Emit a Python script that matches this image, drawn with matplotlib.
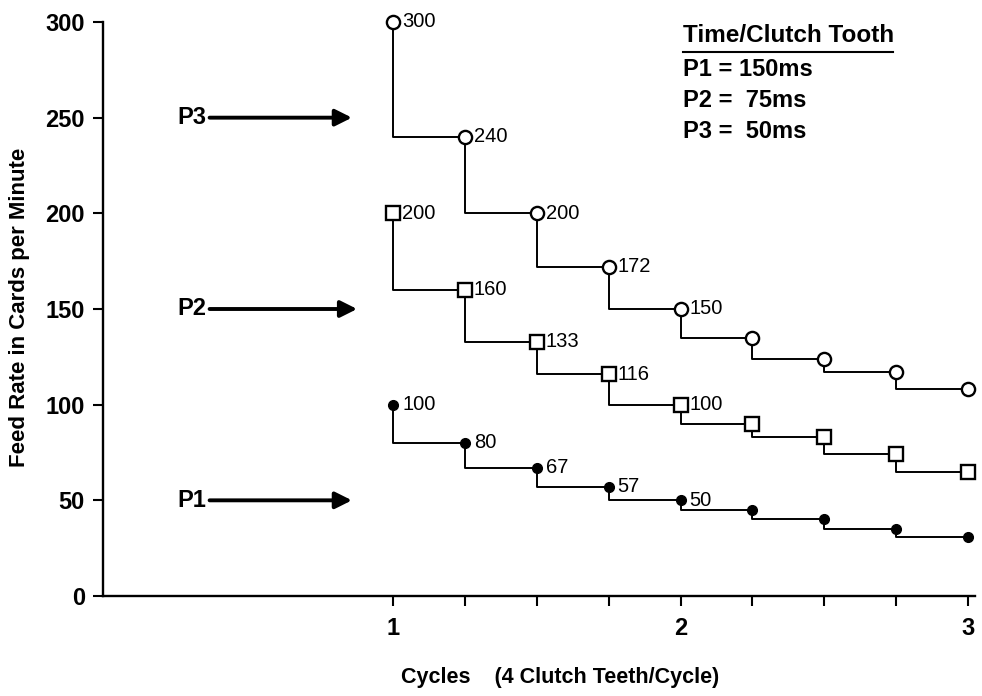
import matplotlib
matplotlib.use("Agg")
import matplotlib.pyplot as plt

plt.rcParams['font.family'] = ['Liberation Sans', 'DejaVu Sans']

# Cycle positions (one step per clutch tooth, 4 teeth per cycle)
cycles = [1.0, 1.25, 1.5, 1.75, 2.0, 2.25, 2.5, 2.75, 3.0]

# Feed rate (cards per minute) for each clutch setting
p1_rate = [100, 80, 67, 57, 50, 45, 40, 35, 31]
p2_rate = [200, 160, 133, 116, 100, 90, 83, 74, 65]
p3_rate = [300, 240, 200, 172, 150, 135, 124, 117, 108]

# Number of leading points that carry a value label
n_labeled = 5

y_ticks = [0, 50, 100, 150, 200, 250, 300]
x_ticks = [1.0, 1.25, 1.5, 1.75, 2.0, 2.25, 2.5, 2.75, 3.0]
x_tick_labels = ['1', '', '', '', '2', '', '', '', '3']

# Start-level pointers on the left of the chart
pointer_names = ['P3', 'P2', 'P1']
pointer_levels = [250, 150, 50]

legend_title = 'Time/Clutch Tooth'
legend_lines = ['P1 = 150ms', 'P2 =  75ms', 'P3 =  50ms']

fig = plt.figure(figsize=(9.82, 6.96), dpi=100)
W, H = 982, 696
ax_left, ax_right, ax_top, ax_bottom = 103, 975, 22, 596
ax = fig.add_axes([ax_left / W, 1 - ax_bottom / H,
                   (ax_right - ax_left) / W, (ax_bottom - ax_top) / H])

ax.set_xlim(-0.0087, 3.024)
ax.set_ylim(0, 300)

for s in ['top', 'right']:
    ax.spines[s].set_visible(False)
for s in ['left', 'bottom']:
    ax.spines[s].set_linewidth(1.7)

ax.set_yticks(y_ticks)
ax.set_xticks(x_ticks)
ax.set_xticklabels(x_tick_labels)
ax.tick_params(axis='both', direction='out', length=7, width=1.5,
               labelsize=17, pad=6)
for lbl in ax.get_xticklabels() + ax.get_yticklabels():
    lbl.set_fontweight('bold')
ax.tick_params(axis='x', pad=8)

line_kw = dict(color='black', lw=1.4, where='pre', zorder=2)
series = [
    (p3_rate, dict(marker='o', ms=9.5, mfc='white', mec='black', mew=1.7)),
    (p2_rate, dict(marker='s', ms=10.5, mfc='white', mec='black', mew=1.7)),
    (p1_rate, dict(marker='o', ms=7, mfc='black', mec='black', mew=1)),
]
for rates, mkw in series:
    ax.step(cycles, rates, **line_kw)
    ax.plot(cycles, rates, ls='none', zorder=3, clip_on=False, **mkw)
    for x, y in zip(cycles[:n_labeled], rates[:n_labeled]):
        ax.annotate(str(y), xy=(x, y), xytext=(6.5, 0),
                    textcoords='offset points', ha='left', va='center',
                    fontsize=14.5)

for name, level in zip(pointer_names, pointer_levels):
    tip = 0.875 if name == 'P2' else 0.857
    ax.annotate('', xy=(tip, level), xytext=(0.362, level),
                arrowprops=dict(arrowstyle='-|>', lw=2.8, color='black',
                                mutation_scale=25, shrinkA=0, shrinkB=0))
    ax.text(0.352, level, name, ha='right', va='center',
            fontsize=17, fontweight='bold')

# Clutch timing key
fig.text(683 / W, 1 - 36 / H, legend_title, ha='left', va='center',
         fontsize=17.5, fontweight='bold')
fig.add_artist(plt.Line2D([683 / W, 893 / W], [1 - 52 / H, 1 - 52 / H],
                          color='black', lw=1.5))
for i, txt in enumerate(legend_lines):
    fig.text(683 / W, 1 - (69 + 31.5 * i) / H, txt, ha='left', va='center',
             fontsize=17, fontweight='bold')

fig.text(560 / W, 1 - 678 / H, 'Cycles    (4 Clutch Teeth/Cycle)',
         ha='center', va='center', fontsize=15.5, fontweight='bold')
fig.text(20 / W, 1 - 307 / H, 'Feed Rate in Cards per Minute',
         ha='center', va='center', rotation=90, fontsize=16,
         fontweight='bold')

fig.savefig('out.png', dpi=100, facecolor='white')
